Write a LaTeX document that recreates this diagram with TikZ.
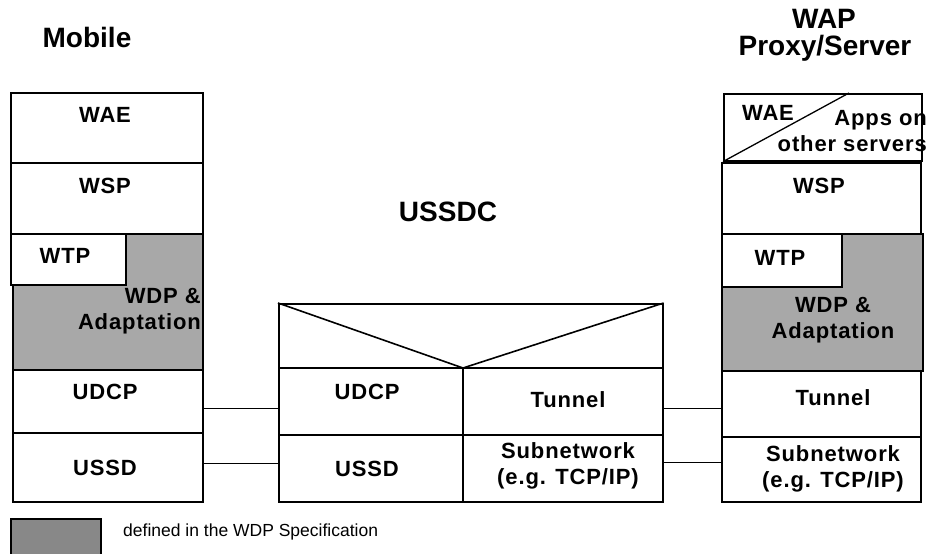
\documentclass[tikz,border=0pt]{standalone}
\usepackage{fontspec}
\setmainfont{Liberation Sans}
\newfontfamily\labfont[LetterSpace=4]{Liberation Sans}
\definecolor{wdpgray}{HTML}{A8A8A8}
\definecolor{leggray}{HTML}{888888}
\tikzset{
  box/.style={draw=black, line width=1.6pt, fill=white, inner sep=0pt, anchor=north west},
  graybox/.style={box, fill=wdpgray},
  lab/.style={font=\labfont\bfseries\fontsize{22}{26}\selectfont, inner sep=0pt, align=center},
  ttl/.style={font=\bfseries\fontsize{28}{32}\selectfont, inner sep=0pt, align=center},
  conn/.style={line width=1.2pt},
}
\newcommand{\bx}[6]{\node[#1, minimum width=#4pt-#2pt, minimum height=#5pt-#3pt] (#6) at (#2,#3) {};}
\begin{document}
\begin{tikzpicture}[x=1pt,y=-1pt]
\useasboundingbox (0,0) rectangle (930,554);
% titles
\node[ttl] (tmob) at (87,37) {Mobile};
\node[ttl] (twap) at (824,19) {WAP};
\node[ttl] (tprx) at (825,48) {Proxy/Server};
\node[ttl] (tussdc) at (448,212) {USSDC};
% left stack
\bx{box}{10}{92}{202}{162}{lwae}
\bx{box}{10}{162}{202}{233}{lwsp}
\bx{graybox}{12}{233}{202}{369}{lwdp}
\bx{box}{10}{233}{125}{284}{lwtp}
\bx{box}{12}{369}{202}{432}{ludcp}
\bx{box}{12}{432}{202}{501}{lussd}
\node[lab] (lwaet) at (105,115) {WAE};
\node[lab] (lwspt) at (105,186) {WSP};
\node[lab] (lwtpt) at (65,256) {WTP};
\node[lab, align=right, anchor=east] (lwdpt) at (201,311) {WDP \&\\Adaptation};
\node[lab] (ludcpt) at (105,392) {UDCP};
\node[lab] (lussdt) at (105,468) {USSD};
% middle box
\bx{box}{278}{303}{662}{501}{mid}
\coordinate (vtx) at (463,368);
\draw[line width=1.6pt] (mid.north west) -- (vtx) -- (mid.north east);
\draw[line width=1.6pt] (mid.west |- vtx) -- (mid.east |- vtx);
\draw[line width=1.6pt] (mid.west |- 0,435) -- (mid.east |- 0,435);
\draw[line width=1.6pt] (vtx) -- (vtx |- mid.south);
\node[lab] (mudcpt) at (367,392) {UDCP};
\node[lab] (mtunt) at (568,400) {Tunnel};
\node[lab] (mussdt) at (367,469) {USSD};
\node[lab] (msubt) at (568,466) {Subnetwork\\(e.g. TCP/IP)};
% right stack
\bx{box}{723}{93}{921}{160}{rwae}
\draw[line width=1.3pt] (rwae.south west) -- (849,93);
\node[lab] (rwaet) at (768,113) {WAE};
\node[lab, align=right, anchor=east] (rappt) at (927,131) {Apps on\\other servers};
\bx{box}{721}{162}{920}{233}{rwsp}
\node[lab] (rwspt) at (819,186) {WSP};
\bx{graybox}{721}{233}{922}{370}{rwdp}
\bx{box}{721}{233}{841}{286}{rwtp}
\node[lab] (rwtpt) at (780,258) {WTP};
\node[lab] (rwdpt) at (833,320) {WDP \&\\Adaptation};
\bx{box}{721}{370}{920}{436}{rtun}
\node[lab] (rtunt) at (833,398) {Tunnel};
\bx{box}{721}{436}{920}{501}{rsub}
\node[lab] (rsubt) at (833,469) {Subnetwork\\(e.g. TCP/IP)};
% connectors
\draw[conn] ([yshift=-7pt]ludcp.east) -- ([yshift=-7pt]ludcp.east -| mid.west);
\draw[conn] ([yshift=3.5pt]lussd.east) -- ([yshift=3.5pt]lussd.east -| mid.west);
\draw[conn] ([yshift=-5pt]rtun.west) -- ([yshift=-5pt]rtun.west -| mid.east);
\draw[conn] ([yshift=6.5pt]rsub.west) -- ([yshift=6.5pt]rsub.west -| mid.east);
% legend
\node[draw=black, line width=1.6pt, fill=leggray, inner sep=0pt, anchor=north west, minimum width=90pt, minimum height=44pt] (leg) at (10,518) {};
\node[font=\fontsize{17.5}{20}\selectfont, anchor=west, inner sep=0pt] (legt) at (123,532) {defined in the WDP Specification};
\end{tikzpicture}
\end{document}
